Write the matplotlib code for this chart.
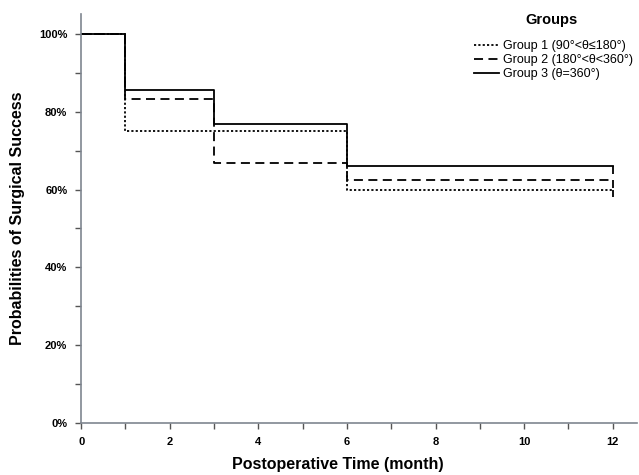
import matplotlib
matplotlib.use("Agg")
import matplotlib.pyplot as plt
from matplotlib.ticker import MultipleLocator, FuncFormatter

plt.rcParams['font.family'] = ['Liberation Sans', 'DejaVu Sans']

times = [0, 1, 3, 6, 12]
group1 = [1.0, 0.75, 0.75, 0.60, 0.60]
group2 = [1.0, 0.833, 0.667, 0.625, 0.625]
group3 = [1.0, 0.857, 0.769, 0.66, 0.66]
labels = ["Group 1 (90°<θ≤180°)", "Group 2 (180°<θ<360°)", "Group 3 (θ=360°)"]
styles = [(0, (1.2, 1.2)), (0, (5, 3)), '-']

fig = plt.figure(figsize=(6.39, 4.75), dpi=100)
ax = fig.add_axes([0.127, 0.1095, 0.87, 0.86])

for vals, lab, ls in zip([group1, group2, group3], labels, styles):
    ax.step(times, vals, where='post', color='black', lw=1.3, linestyle=ls, label=lab)
    ax.vlines(times[-1], vals[-1] - 0.02, vals[-1], color='black', lw=1.3)

ax.set_xlim(0, 12.55)
ax.set_ylim(0, 1.05)
ax.xaxis.set_major_locator(MultipleLocator(2))
ax.xaxis.set_minor_locator(MultipleLocator(1))
ax.yaxis.set_major_locator(MultipleLocator(0.2))
ax.yaxis.set_minor_locator(MultipleLocator(0.1))
ax.yaxis.set_major_formatter(FuncFormatter(lambda v, p: f"{int(round(v*100))}%"))

for s in ['top', 'right']:
    ax.spines[s].set_visible(False)
for s in ['left', 'bottom']:
    ax.spines[s].set_color('#7f8690')
    ax.spines[s].set_linewidth(1.2)
ax.tick_params(which='both', direction='out', color='#555555', width=1.0)
ax.tick_params(which='major', length=4, labelsize=8, pad=6)
ax.tick_params(which='minor', length=4)
for t in ax.get_xticklabels() + ax.get_yticklabels():
    t.set_fontweight('bold')

fig.text(338 / 639, 1 - 465 / 475, "Postoperative Time (month)", ha='center', va='center',
         fontsize=11.5, fontweight='bold')
ax.set_ylabel("Probabilities of Surgical Success", fontsize=11.5, fontweight='bold', labelpad=10)

leg = ax.legend(loc='upper left', bbox_to_anchor=(0.742, 0.915), bbox_transform=fig.transFigure,
                frameon=False, fontsize=9, handlelength=2.0, handletextpad=0.3,
                labelspacing=0.15, borderaxespad=0.0, borderpad=0.0)
fig.text(551 / 639, 1 - 20 / 475, "Groups", ha='center', va='center',
         fontsize=10.5, fontweight='bold')

fig.savefig("out.png", dpi=100)
